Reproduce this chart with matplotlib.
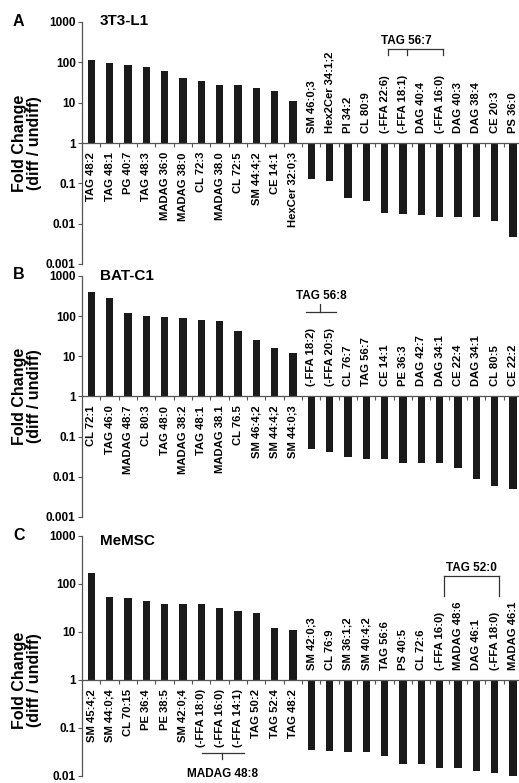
import matplotlib
matplotlib.use("Agg")
import matplotlib.pyplot as plt
import matplotlib.transforms as mtransforms
from matplotlib import font_manager
from matplotlib.ticker import FixedLocator, FixedFormatter, NullLocator

plt.rcParams['font.family'] = ['Liberation Sans', 'DejaVu Sans']
plt.rcParams['font.weight'] = 'bold'

_names = {f.name for f in font_manager.fontManager.ttflist}
HAS_NARROW = 'Liberation Sans Narrow' in _names

# ---------------- data ----------------
a_title = "3T3-L1"
a_pos_labels = ["TAG 48:2", "TAG 48:1", "PG 40:7", "TAG 48:3", "MADAG 36:0", "MADAG 38:0",
                "CL 72:3", "MADAG 38.0", "CL 72:5", "SM 44:4;2", "CE 14:1", "HexCer 32:0;3"]
a_pos_values = [113, 98, 85, 78, 62, 41, 35, 28, 27, 23, 19, 11]
a_neg_labels = ["SM 46:0;3", "Hex2Cer 34:1;2", "PI 34:2", "CL 80:9", "(-FFA 22:6)", "(-FFA 18:1)",
                "DAG 40:4", "(-FFA 16:0)", "DAG 40:3", "DAG 38:4", "CE 20:3", "PS 36:0"]
a_neg_values = [0.129, 0.112, 0.043, 0.037, 0.018, 0.017, 0.016, 0.0147, 0.0145, 0.0145, 0.0118, 0.0048]

b_title = "BAT-C1"
b_pos_labels = ["CL 72:1", "TAG 46:0", "MADAG 48:7", "CL 80:3", "TAG 48:0", "MADAG 38:2",
                "TAG 48:1", "MADAG 38.1", "CL 76.5", "SM 46:4;2", "SM 44:4;2", "SM 44:0;3"]
b_pos_values = [405, 287, 121, 100, 96, 88, 79, 74, 43, 26, 16.5, 11.9]
b_neg_labels = ["(-FFA 18:2)", "(-FFA 20:5)", "CL 76:7", "TAG 56:7", "CE 14:1", "PE 36:3",
                "DAG 42:7", "DAG 34:1", "CE 22:4", "DAG 34:1", "CL 80:5", "CE 22:2"]
b_neg_values = [0.049, 0.041, 0.032, 0.028, 0.028, 0.0215, 0.0215, 0.0215, 0.017, 0.0088, 0.0059, 0.0049]

c_title = "MeMSC"
c_pos_labels = ["SM 45:4;2", "SM 44:0;4", "CL 70:15", "PE 36:4", "PE 38:5", "SM 42:0;4",
                "(-FFA 18:0)", "(-FFA 16:0)", "(-FFA 14:1)", "TAG 50:2", "TAG 52:4", "TAG 48:2"]
c_pos_values = [170, 54, 50.6, 45, 39, 37.5, 37.5, 31, 28, 25, 12.3, 11.0]
c_neg_labels = ["SM 42:0;3", "CL 76:9", "SM 36:1;2", "SM 40:4;2", "TAG 56:6", "PS 40:5",
                "CL 72:6", "(-FFA 16:0)", "MADAG 48:6", "DAG 46:1", "(-FFA 18:0)", "MADAG 46:1"]
c_neg_values = [0.034, 0.033, 0.032, 0.032, 0.026, 0.018, 0.0176, 0.015, 0.0144, 0.0126, 0.0113, 0.0102]

ab_ticks = [0.001, 0.01, 0.1, 1, 10, 100, 1000]
ab_tick_labels = ["0.001", "0.01", "0.1", "1", "10", "100", "1000"]
c_ticks = [0.01, 0.1, 1, 10, 100, 1000]
c_tick_labels = ["0.01", "0.1", "1", "10", "100", "1000"]

a_bracket = ("TAG 56:7", [16, 17, 19])
b_bracket = ("TAG 56:8", [12, 13])
c_bracket_top = ("TAG 52:0", [19, 22])
c_bracket_bottom = ("MADAG 48:8", [6, 7, 8])

ylabel = "Fold Change\n(diff / undiff)"

# ---------------- figure ----------------
W, H = 519, 783
fig = plt.figure(figsize=(W / 100, H / 100), dpi=100)

BAR = '#1a1a1a'
AXC = '#555555'
LC = '#333333'
if HAS_NARROW:
    LBL_FAM = ['Liberation Sans Narrow', 'Liberation Sans', 'DejaVu Sans']
    LBL_FS = 9.3
    TICK_FAM = ['Liberation Sans Narrow', 'Liberation Sans', 'DejaVu Sans']
    TICK_FS = 9.5
else:
    LBL_FAM = ['Liberation Sans', 'DejaVu Sans']
    LBL_FS = 8.1
    TICK_FAM = ['Liberation Sans', 'DejaVu Sans']
    TICK_FS = 8.5


def px(x, y):
    return x / W, 1 - y / H


def make_panel(top_px, bot_px, letter, title, title_y, pos_labels, pos_vals, neg_labels, neg_vals,
               ticks, tick_labels):
    left = 82 / W
    b = 1 - bot_px / H
    h = (bot_px - top_px) / H
    ax = fig.add_axes([left, b, 1 - left, h])
    labels = pos_labels + neg_labels
    vals = pos_vals + neg_vals
    xs = list(range(len(vals)))
    ax.bar(xs, [v - 1 for v in vals], bottom=1, width=0.4, color=BAR, edgecolor='none')
    ax.set_yscale('log')
    ax.set_ylim(ticks[0], ticks[-1])
    ax.set_xlim(-0.5, 23.33)
    ax.yaxis.set_major_locator(FixedLocator(ticks))
    ax.yaxis.set_major_formatter(FixedFormatter(tick_labels))
    ax.yaxis.set_minor_locator(NullLocator())
    ax.tick_params(axis='y', length=3, width=0.8, color=AXC, pad=1.5, labelsize=TICK_FS)
    for t in ax.get_yticklabels():
        t.set_fontweight('bold')
        t.set_family(TICK_FAM)
    ax.spines['top'].set_visible(False)
    ax.spines['right'].set_visible(False)
    ax.spines['left'].set_color(AXC)
    ax.spines['left'].set_linewidth(0.9)
    ax.spines['bottom'].set_position(('data', 1))
    ax.spines['bottom'].set_color(AXC)
    ax.spines['bottom'].set_linewidth(0.9)
    ax.set_xticks([i + 0.5 for i in range(len(vals) - 1)])
    ax.set_xticklabels([])
    ax.tick_params(axis='x', length=3, width=0.8, color=AXC, direction='out')
    ax.patch.set_visible(False)
    for i, (lab, v) in enumerate(zip(labels, vals)):
        if v >= 1:
            ax.annotate(lab, (i, 1), xytext=(0, -6.5), textcoords='offset points',
                        rotation=90, ha='center', va='top', fontsize=LBL_FS, family=LBL_FAM,
                        fontweight='bold', annotation_clip=False)
        else:
            ax.annotate(lab, (i, 1), xytext=(0, 7.5), textcoords='offset points',
                        rotation=90, ha='center', va='bottom', fontsize=LBL_FS, family=LBL_FAM,
                        fontweight='bold', annotation_clip=False)
    # y label centred on the "1" line
    tr = mtransforms.blended_transform_factory(fig.transFigure, ax.transData)
    ax.text(27 / W, 1, ylabel, transform=tr, rotation=90, ha='center', va='center',
            fontsize=11.5, fontweight='bold', linespacing=1.05)
    fig.text(*px(13, top_px - 1), letter, fontsize=11.5, fontweight='bold', ha='left', va='center')
    fig.text(*px(100, title_y), title, fontsize=11, fontweight='bold', ha='left', va='center')
    return ax


axA = make_panel(22, 264, "A", a_title, 21, a_pos_labels, a_pos_values, a_neg_labels, a_neg_values,
                 ab_ticks, ab_tick_labels)
axB = make_panel(276, 517, "B", b_title, 276, b_pos_labels, b_pos_values, b_neg_labels, b_neg_values,
                 ab_ticks, ab_tick_labels)
axC = make_panel(536, 776, "C", c_title, 541, c_pos_labels, c_pos_values, c_neg_labels, c_neg_values,
                 c_ticks, c_tick_labels)

BR_FS = 8.5

# A: TAG 56:7
name, idx = a_bracket
tr = mtransforms.blended_transform_factory(axA.transData, axA.transAxes)
xs_b = [i + 0.2 for i in idx]
axA.plot([xs_b[0], xs_b[-1]], [0.89, 0.89], color=LC, lw=0.9, transform=tr, clip_on=False)
for x in xs_b:
    axA.plot([x, x], [0.89, 0.862], color=LC, lw=0.9, transform=tr, clip_on=False)
axA.text(xs_b[1], 0.92, name, transform=tr, ha='center', va='center', fontsize=BR_FS, fontweight='bold')

# B: TAG 56:8 (stem up)
name, idx = b_bracket
tr = mtransforms.blended_transform_factory(axB.transData, axB.transAxes)
mid = sum(idx) / len(idx)
axB.plot([idx[0] - 0.3, idx[-1] + 0.35], [0.85, 0.85], color=LC, lw=0.9, transform=tr, clip_on=False)
axB.plot([mid, mid], [0.85, 0.882], color=LC, lw=0.9, transform=tr, clip_on=False)
axB.text(mid + 0.05, 0.915, name, transform=tr, ha='center', va='center', fontsize=BR_FS, fontweight='bold')

# C: TAG 52:0 (drops at both ends)
name, idx = c_bracket_top
tr = mtransforms.blended_transform_factory(axC.transData, axC.transAxes)
xs_b = [i + 0.25 for i in idx]
axC.plot([xs_b[0], xs_b[-1]], [0.832, 0.832], color=LC, lw=0.9, transform=tr, clip_on=False)
for x in xs_b:
    axC.plot([x, x], [0.832, 0.75], color=LC, lw=0.9, transform=tr, clip_on=False)
axC.text(sum(xs_b) / 2, 0.868, name, transform=tr, ha='center', va='center', fontsize=BR_FS, fontweight='bold')

# C: MADAG 48:8 (stem down, below labels)
name, idx = c_bracket_bottom
mid = sum(idx) / len(idx) + 0.15
axC.plot([idx[0] + 0.05, idx[-1] + 0.35], [0.097, 0.097], color=LC, lw=0.9, transform=tr, clip_on=False)
axC.plot([mid, mid], [0.097, 0.07], color=LC, lw=0.9, transform=tr, clip_on=False)
axC.text(mid, 0.01, name, transform=tr, ha='center', va='center', fontsize=BR_FS, fontweight='bold')

fig.savefig("out.png", dpi=100)
